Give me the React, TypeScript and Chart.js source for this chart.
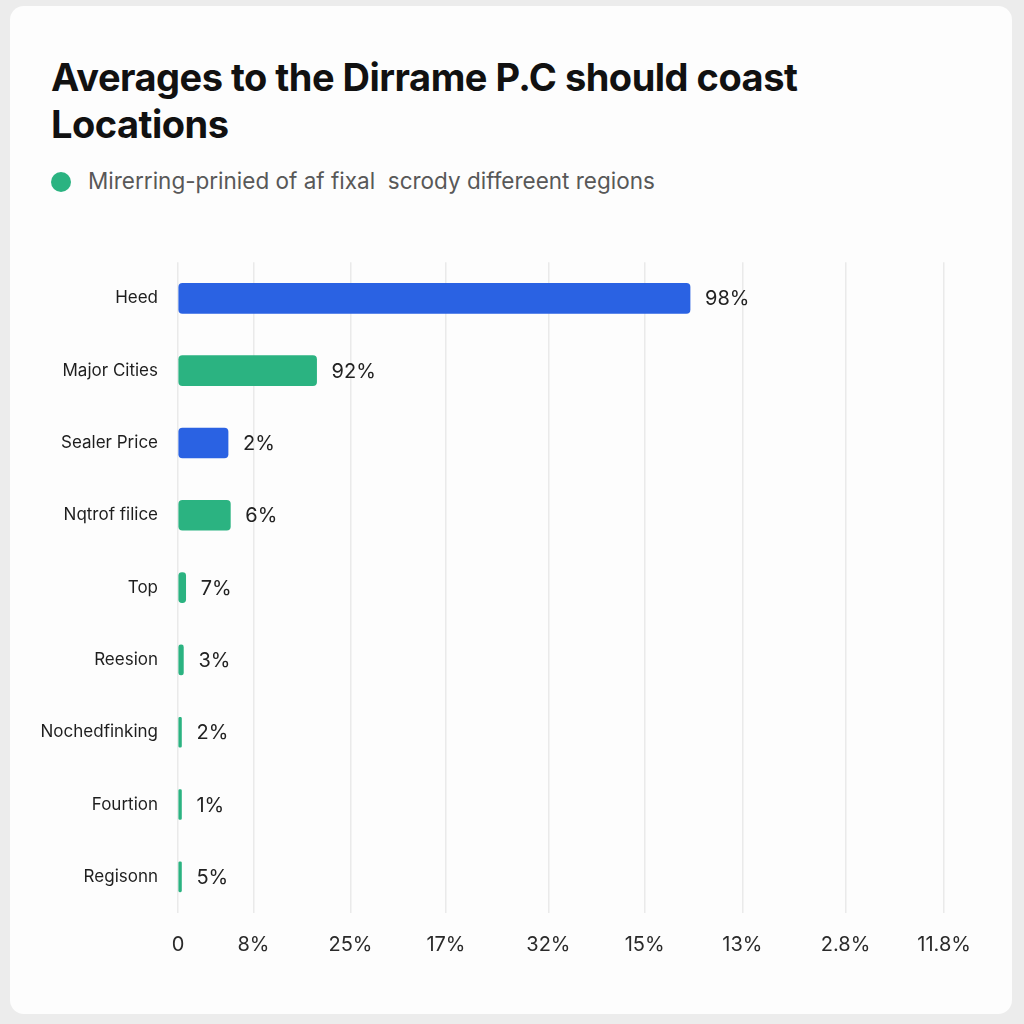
import React, { useEffect, useRef } from "react";
import { Chart, registerables } from "chart.js";

Chart.register(...registerables);

const categories = ["Heed", "Major Cities", "Sealer Price", "Nqtrof filice", "Top", "Reesion", "Nochedfinking", "Fourtion", "Regisonn"];
const barValues = [66.5, 18.0, 6.5, 6.8, 1.0, 0.7, 0.45, 0.45, 0.45];
const valueLabels = ["98%", "92%", "2%", "6%", "7%", "3%", "2%", "1%", "5%"];
const barColors = ["#2a62e3", "#2bb381", "#2a62e3", "#2bb381", "#2bb381", "#2bb381", "#2bb381", "#2bb381", "#2bb381"];
const tickValues = [0, 9.8, 22.4, 34.8, 48.1, 60.6, 73.3, 86.7, 99.5];
const tickLabels = ["0", "8%", "25%", "17%", "32%", "15%", "13%", "2.8%", "11.8%"];

const FONT = "Inter, 'Noto Sans', sans-serif";

export default function App() {
  const ref = useRef<HTMLCanvasElement | null>(null);

  useEffect(() => {
    document.body.style.margin = "0";
    if (!ref.current) return;
    const valuePlugin = {
      id: "valueLabels",
      afterDatasetsDraw(chart: any) {
        const ctx = chart.ctx;
        const meta = chart.getDatasetMeta(0);
        ctx.save();
        ctx.font = `400 20px ${FONT}`;
        ctx.fillStyle = "#222";
        ctx.textAlign = "left";
        ctx.textBaseline = "middle";
        meta.data.forEach((el: any, i: number) => {
          ctx.fillText(valueLabels[i], el.x + 15, el.y + 1);
        });
        ctx.restore();
      },
    };
    const chart = new Chart(ref.current, {
      type: "bar",
      data: {
        labels: categories,
        datasets: [
          {
            data: barValues,
            backgroundColor: barColors,
            borderRadius: 4,
            borderSkipped: false,
            barThickness: 30,
          },
        ],
      },
      options: {
        indexAxis: "y",
        animation: false,
        responsive: false,
        maintainAspectRatio: false,
        layout: { padding: { left: 0, right: 52, top: 12, bottom: 0 } },
        plugins: { legend: { display: false }, tooltip: { enabled: false } },
        scales: {
          x: {
            min: 0,
            max: 100,
            afterBuildTicks: (scale: any) => {
              scale.ticks = tickValues.map((v) => ({ value: v }));
            },
            afterFit: (scale: any) => {
              scale.height = 80;
            },
            grid: { color: "#eaeaea", drawTicks: false, lineWidth: 1.5 },
            border: { display: false },
            ticks: {
              padding: 20,
              color: "#2a2a2a",
              font: { family: FONT, size: 20 },
              maxRotation: 0,
              autoSkip: false,
              callback: (_v: any, i: number) => tickLabels[i],
            },
          },
          y: {
            afterFit: (scale: any) => {
              scale.width = 178;
            },
            grid: { display: false, drawTicks: false },
            border: { display: false },
            ticks: {
              padding: 20,
              color: "#1e1e1e",
              font: { family: FONT, size: 17 },
              autoSkip: false,
            },
          },
        },
      },
      plugins: [valuePlugin],
    });
    return () => chart.destroy();
  }, []);

  return (
    <div style={{ position: "relative", width: 1024, height: 1024, background: "#ececec", overflow: "hidden", fontFamily: FONT }}>
      <div style={{ position: "absolute", left: 10, top: 6, width: 1002, height: 1008, background: "#fdfdfd", borderRadius: 14 }} />
      <div style={{ position: "absolute", left: 51, top: 54, width: 900, fontSize: 38, fontWeight: 700, lineHeight: "47px", color: "#111", letterSpacing: -0.5 }}>
        Averages to the Dirrame P.C should coast<br />Locations
      </div>
      <div style={{ position: "absolute", left: 51, top: 172, width: 20, height: 20, borderRadius: 10, background: "#2bb381" }} />
      <div style={{ position: "absolute", left: 88, top: 166, fontSize: 22.5, color: "#585858", lineHeight: "30px" }}>
        Mirerring-prinied of af fixal&nbsp; scrody differeent regions
      </div>
      <canvas ref={ref} width={1000} height={761} style={{ position: "absolute", left: 0, top: 232, width: 1000, height: 761 }} />
    </div>
  );
}
